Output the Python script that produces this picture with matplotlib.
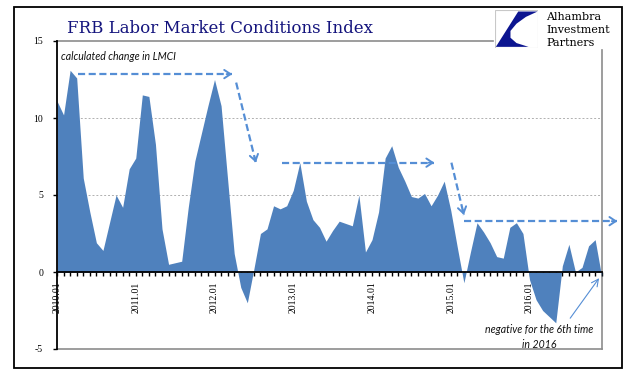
import numpy as np
import matplotlib
matplotlib.use("Agg")
import matplotlib.pyplot as plt
from matplotlib.patches import Rectangle, Polygon

plt.rcParams['axes.unicode_minus'] = False

# monthly LMCI change, 2010.01 .. 2016.12
lmci = [11.1, 10.2, 13.1, 12.6, 6.1, 3.9, 1.9, 1.4, 3.2, 5.0, 4.2, 6.7,
        7.4, 11.5, 11.4, 8.3, 2.8, 0.5, 0.6, 0.7, 4.2, 7.2, 9.0, 10.8,
        12.5, 10.8, 6.0, 1.2, -1.0, -2.0, 0.2, 2.5, 2.8, 4.3, 4.1, 4.3,
        5.3, 7.1, 4.6, 3.4, 2.9, 2.0, 2.7, 3.3, 3.15, 3.0, 5.0, 1.3,
        2.1, 3.9, 7.4, 8.2, 6.8, 5.9, 4.9, 4.8, 5.1, 4.3, 5.0, 5.9,
        4.0, 1.6, -0.7, 1.3, 3.2, 2.6, 1.9, 1.0, 0.9, 2.9, 3.2, 2.5,
        -0.5, -1.8, -2.5, -2.9, -3.3, 0.4, 1.8, 0.0, 0.3, 1.7, 2.1, -0.3]
years = [2010, 2011, 2012, 2013, 2014, 2015, 2016]
year_labels = [f"{y}.01" for y in years]
y_ticks = [-5, 0, 5, 10, 15]

# dashed "trend" arrows (month index, value)
trend_arrows = [((3.2, 12.85), (26.7, 12.85)),
                ((27.3, 12.3), (30.3, 7.1)),
                ((34.3, 7.1), (57.5, 7.1)),
                ((60.1, 7.1), (62.0, 3.7)),
                ((62.0, 3.3), (85.4, 3.3))]

FILL = '#4f81bd'
ARROW = '#558ed5'
BORDER = '#8c8c8c'

months = np.arange(len(lmci))
vals = np.array(lmci)
last = len(lmci) - 1

fig = plt.figure(figsize=(6.41, 3.75), dpi=100)
ax = fig.add_axes([57 / 641, 26 / 375, 544.7 / 641, 308 / 375])

ax.fill_between(months, vals, 0, color=FILL, lw=0, zorder=2)

ax.set_xlim(0, last)
ax.set_ylim(-5, 15)

# grid + plot-area border (top/right border stops at the logo)
for g in (5, 10):
    ax.axhline(g, color='#b0b0b0', lw=0.7, ls=(0, (2, 2)), zorder=1)
ax.plot([0, last], [-5, -5], color=BORDER, lw=1.2, zorder=1, clip_on=False)
ax.plot([0, 66.4], [15, 15], color=BORDER, lw=1.2, zorder=1, clip_on=False)
ax.plot([last, last], [-5, 14.4], color=BORDER, lw=1.2, zorder=1, clip_on=False)

for s in ('top', 'right'):
    ax.spines[s].set_visible(False)
ax.spines['bottom'].set_position(('data', 0))
ax.spines['bottom'].set_linewidth(1.3)
ax.spines['bottom'].set_zorder(3)
ax.spines['left'].set_linewidth(1.3)

ax.set_yticks(y_ticks)
ax.set_yticklabels([str(t) for t in y_ticks], fontfamily='Liberation Serif', fontsize=7)
ax.tick_params(axis='y', direction='out', length=3, width=1, pad=7)

ax.set_xticks([12 * i for i in range(len(years))])
ax.set_xticklabels(year_labels, rotation=90, fontfamily='Liberation Serif', fontsize=7)
ax.set_xticks(months, minor=True)
ax.tick_params(axis='x', which='both', direction='out', length=3, width=1, pad=4)

# annotations
ax.text(0.6, 14.0, "calculated change in LMCI", fontfamily='Lato', style='italic',
        fontsize=7.6, color='#111111', va='center')
ax.text(73.5, -4.2, "negative for the 6th time\nin 2016", fontfamily='Lato', style='italic',
        fontsize=7.6, color='#111111', ha='center', va='center', linespacing=1.45)

fig.canvas.draw()
for (x0, y0), (x1, y1) in trend_arrows:
    ax.plot([x0, x1], [y0, y1], color=ARROW, lw=1.6, ls=(0, (3.2, 1.6)),
            clip_on=False, zorder=4, solid_capstyle='butt')
    p0 = ax.transData.transform((x0, y0))
    p1 = ax.transData.transform((x1, y1))
    d = (p1 - p0) / np.hypot(*(p1 - p0))
    ax.annotate('', xy=(x1, y1), xytext=(-d[0] * 4, -d[1] * 4), textcoords='offset points',
                arrowprops=dict(arrowstyle='->,head_length=0.45,head_width=0.3',
                                color=ARROW, lw=1.4, shrinkA=0, shrinkB=0),
                annotation_clip=False, zorder=4)

ax.annotate('', xy=(82.6, -0.4), xytext=(78.2, -3.0),
            arrowprops=dict(arrowstyle='->,head_length=0.5,head_width=0.25',
                            color=ARROW, lw=0.8, shrinkA=0, shrinkB=0),
            annotation_clip=False, zorder=4)

# title
fig.text(67 / 641, 1 - 33 / 375, "FRB Labor Market Conditions Index",
         fontfamily='DejaVu Serif', fontsize=12, color='#14147d', va='baseline')

# logo
lax = fig.add_axes([495 / 641, 1 - 48 / 375, 43 / 641, 38 / 375])
lax.set_xlim(0, 1)
lax.set_ylim(0, 1)
lax.axis('off')
lax.add_patch(Rectangle((0.01, 0.01), 0.98, 0.98, facecolor='white',
                        edgecolor='#c8c8c8', lw=0.8))
lax.add_patch(Polygon([(0.54, 0.96), (0.99, 0.96), (0.72, 0.82), (0.5, 0.64),
                       (0.36, 0.45), (0.36, 0.27), (0.5, 0.13), (0.78, 0.03),
                       (0.02, 0.03)],
                      closed=True, facecolor='#0c1590', edgecolor='none'))
for txt, yb in (("Alhambra", 20), ("Investment", 33), ("Partners", 46)):
    fig.text(546 / 641, 1 - yb / 375, txt, fontfamily='DejaVu Serif', fontsize=8,
             color='black', va='baseline')

# outer frame
fig.add_artist(Rectangle((14 / 641, 7 / 375), 608 / 641, 361 / 375,
                         transform=fig.transFigure, facecolor='none',
                         edgecolor='black', lw=1.3))

fig.savefig("out.png", dpi=100)
